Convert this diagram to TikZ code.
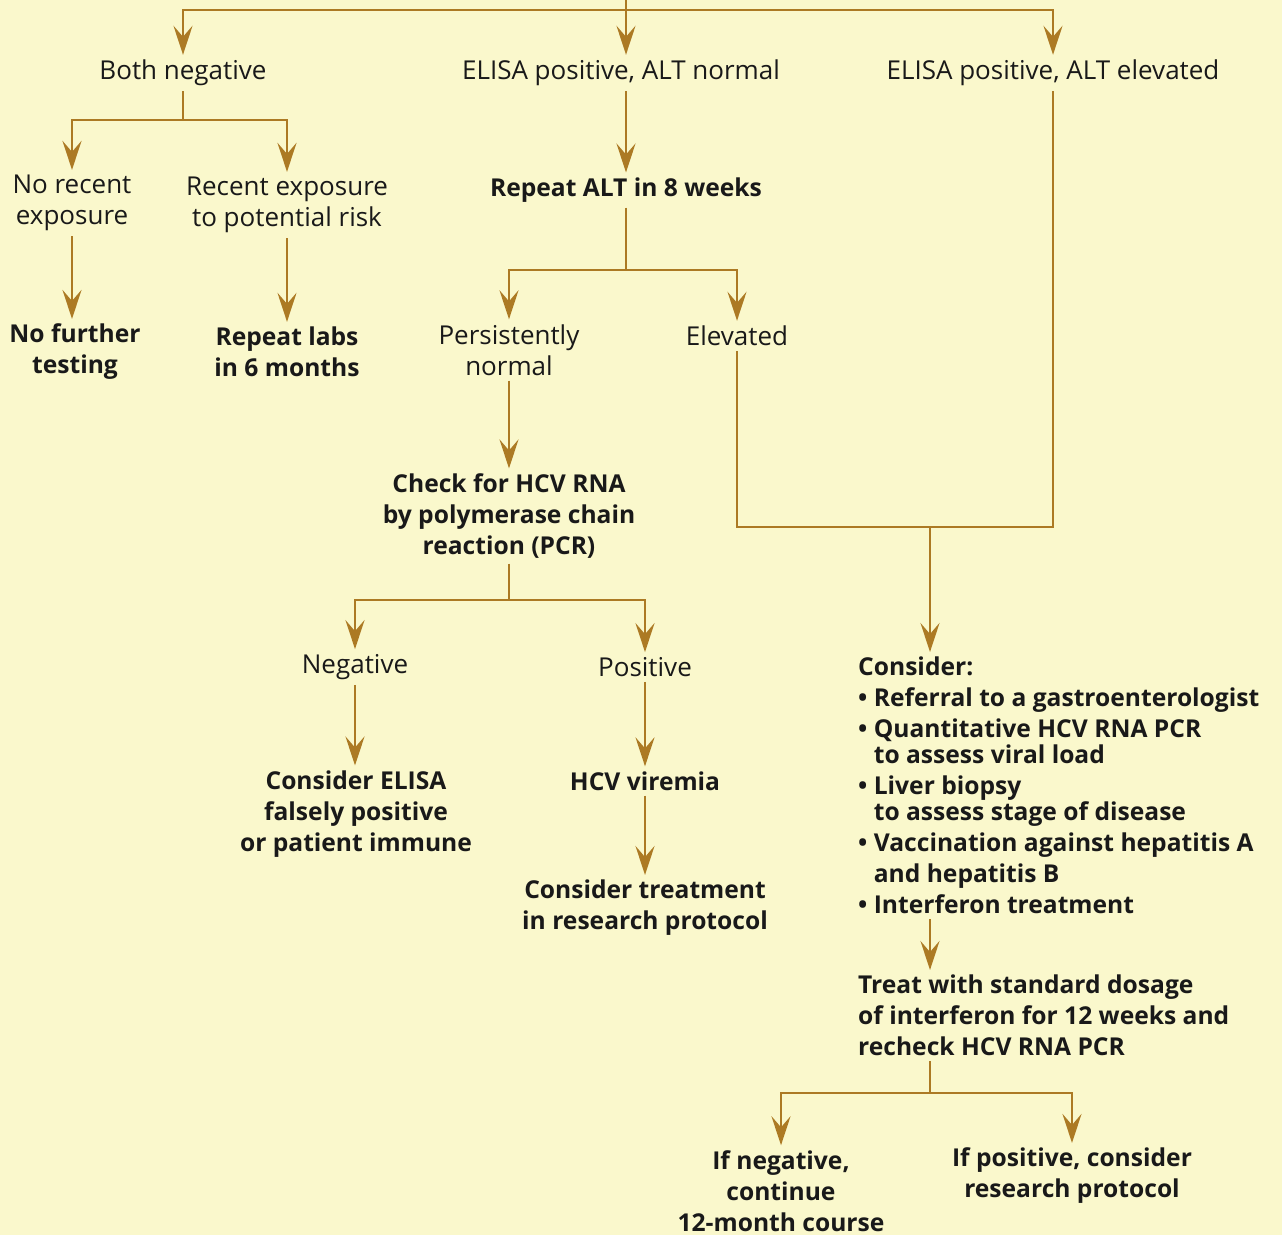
\documentclass[tikz,border=0pt]{standalone}
\usepackage{fontspec}
\setmainfont{Open Sans}
\usetikzlibrary{arrows.meta}
\definecolor{paper}{RGB}{250,248,204}
\definecolor{branch}{RGB}{172,122,36}
\definecolor{ink}{RGB}{25,25,25}

\begin{document}
\begin{tikzpicture}[x=1pt, y=-1pt,
  every node/.style={align=center, inner sep=5pt, text=ink, font=\fontsize{26}{31}\selectfont},
  hd/.style={font=\fontsize{24.6}{31}\selectfont\bfseries},
  link/.style={draw=branch, line width=2.8pt},
  arr/.style={link, -{Stealth[length=29pt,width=19pt,inset=11pt]}}]
    \fill[paper] (0,0) rectangle (1282,1235);
    \useasboundingbox (0,0) rectangle (1282,1235);

    % first split
    \coordinate (top) at (626,0);
    \coordinate (topbar) at (626,10);
    \node (bothneg) at (183,73) {Both negative};
    \node (alnorm) at (621,73) {ELISA positive, ALT normal};
    \node (alelev) at (1053,73) {ELISA positive, ALT elevated};
    \draw[link] (top) -- (topbar);
    \draw[arr] (topbar) -| (bothneg.north);
    \draw[arr] (topbar) -- (topbar |- alnorm.north);
    \draw[arr] (topbar) -| (alelev.north);

    % both negative
    \coordinate (bnfork) at (183,120);
    \node (norecent) at (72,203) {No recent\\exposure};
    \node (recent) at (287,205) {Recent exposure\\to potential risk};
    \node[hd] (nofurther) at (75,352) {No further\\testing};
    \node[hd] (repeatlabs) at (287,352) {Repeat labs\\in 6 months};
    \draw[link] (bothneg) -- (bnfork);
    \draw[arr] (bnfork) -| (norecent.north);
    \draw[arr] (bnfork) -| (recent.north);
    \draw[arr] (norecent.south) -- (norecent.south |- nofurther.north);
    \draw[arr] (recent) -- (repeatlabs);

    % ALT normal
    \node[hd] (repalt) at (626,190) {Repeat ALT in 8 weeks};
    \coordinate (altfork) at (626,270);
    \node (persist) at (509,350) {Persistently\\normal};
    \node (elev) at (737,336) {Elevated};
    \draw[arr] (topbar |- alnorm.south) -- (repalt);
    \draw[link] (repalt) -- (altfork);
    \draw[arr] (altfork) -| (persist.north);
    \draw[arr] (altfork) -| (elev.north);

    % PCR check
    \node[hd] (checkpcr) at (509,516) {Check for HCV RNA\\by polymerase chain\\reaction (PCR)};
    \coordinate (pcrfork) at (509,600);
    \node (neg) at (355,667) {Negative};
    \node (pos) at (645,667) {Positive};
    \node[hd] (falsepos) at (356,814) {Consider ELISA\\falsely positive\\or patient immune};
    \node[hd] (viremia) at (645,781) {HCV viremia};
    \node[hd] (research) at (645,908) {Consider treatment\\in research protocol};
    \draw[arr] (persist) -- (checkpcr);
    \draw[link] (checkpcr) -- (pcrfork);
    \draw[arr] (pcrfork) -| (neg.north);
    \draw[arr] (pcrfork) -| (pos.north);
    \draw[arr] (neg.south) -- (neg.south |- falsepos.north);
    \draw[arr] (pos) -- (viremia);
    \draw[arr] (viremia) -- (research);

    % ALT elevated
    \coordinate (merge) at (930,527);
    \draw[link] (elev) |- (merge);
    \draw[link] (alelev) |- (merge);
    \node[hd, align=left, anchor=north west] (consider) at (853,652)
      {Consider:\\
       • Referral to a gastroenterologist\\
       • Quantitative HCV RNA PCR\\[-5pt]
       \hphantom{• }to assess viral load\\
       • Liver biopsy\\[-5pt]
       \hphantom{• }to assess stage of disease\\
       • Vaccination against hepatitis A\\
       \hphantom{• }and hepatitis B\\
       • Interferon treatment};
    \draw[arr] (merge) -- (merge |- consider.north);

    % treatment
    \node[hd, align=left, anchor=north west] (treat) at (853,970)
      {Treat with standard dosage\\of interferon for 12 weeks and\\recheck HCV RNA PCR};
    \coordinate (treatfork) at (930,1093);
    \node[hd] (ifneg) at (781,1191) {If negative,\\continue\\12-month course};
    \node[hd] (ifpos) at (1072,1176) {If positive, consider\\research protocol};
    \draw[arr] (consider.south -| merge) -- (treat.north -| merge);
    \draw[link] (treat.south -| treatfork) -- (treatfork);
    \draw[arr] (treatfork) -| (ifneg.north);
    \draw[arr] (treatfork) -| (ifpos.north);
\end{tikzpicture}
\end{document}
